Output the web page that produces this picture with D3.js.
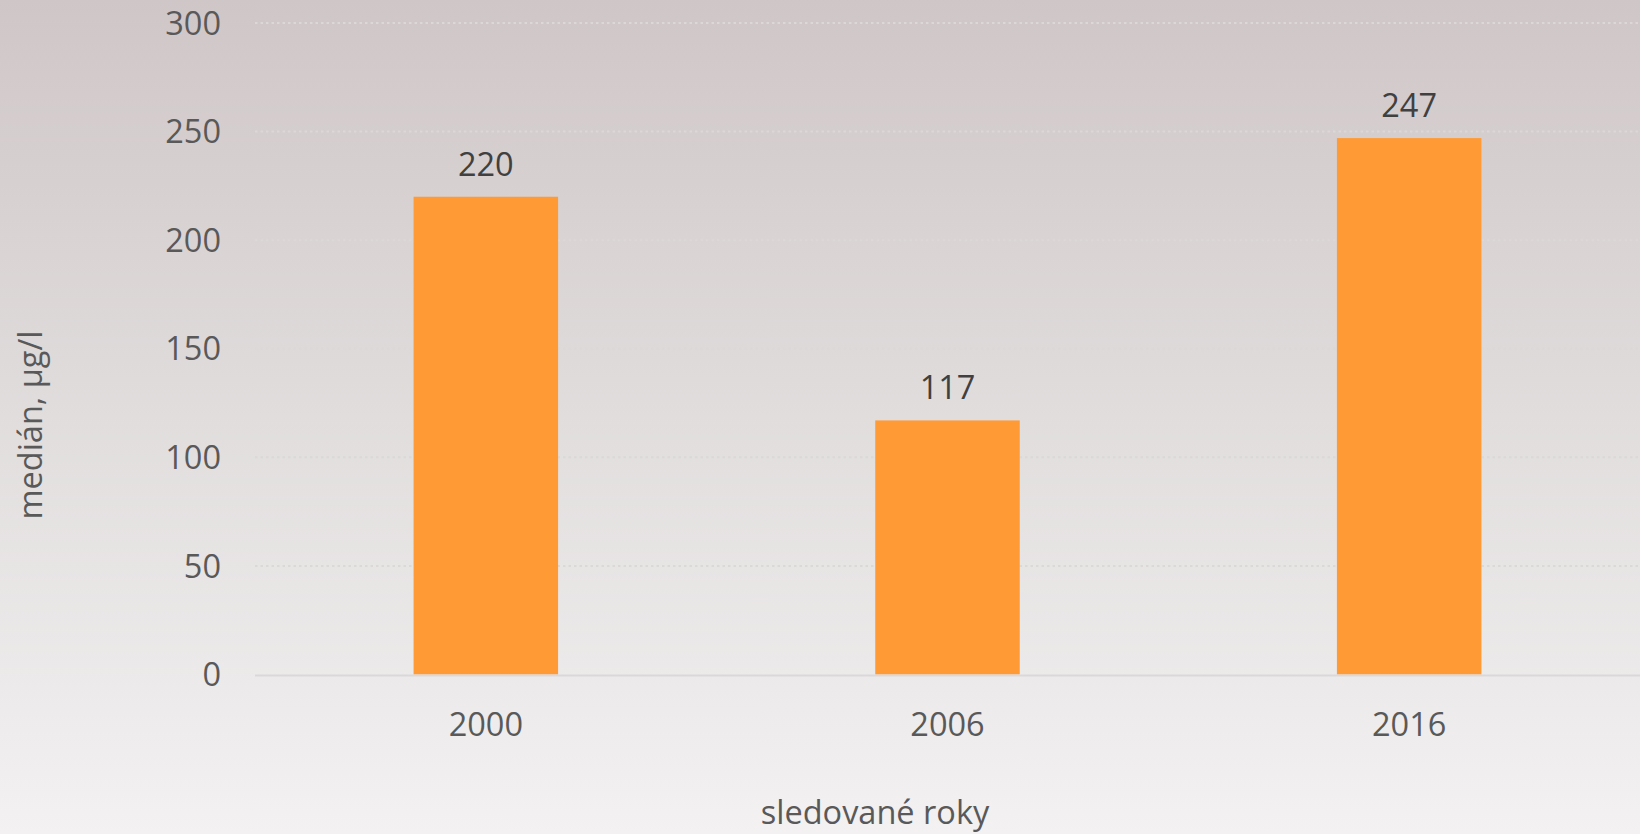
<!DOCTYPE html>
<html>
<head>
<meta charset="utf-8">
<title>medián</title>
<script src="https://cdn.jsdelivr.net/npm/d3@7"></script>
<style>
  html, body { margin: 0; padding: 0; overflow: hidden; }
  text { font-family: "Open Sans", Calibri, sans-serif; }
  .tick-label { fill: #595959; font-size: 32.5px; }
  .value-label { fill: #404040; font-size: 32.5px; }
  .axis-title { fill: #595959; font-size: 32.5px; }
  .grid { stroke: #dcd8d8; stroke-width: 2; stroke-dasharray: 2.5,3; }
  .baseline { stroke: #d9d9d9; stroke-width: 2; }
  .bar { fill: #ff9a35; }
</style>
</head>
<body>
<svg width="1640" height="834">
  <defs>
    <linearGradient id="bg" x1="0" y1="0" x2="0" y2="1">
      <stop offset="0" stop-color="#cfc6c7"></stop>
      <stop offset="0.5" stop-color="#e1dddd"></stop>
      <stop offset="1" stop-color="#f3f1f2"></stop>
    </linearGradient>
  </defs>
  <rect width="1640" height="834" fill="url(#bg)"></rect>
  <g class="grid-lines"></g>
  <g class="bars"></g>
  <g class="labels"></g>
</svg>

<script>
  // data
  var years = ['2000', '2006', '2016']
  var medians = [220, 117, 247]
  var yTicks = [0, 50, 100, 150, 200, 250, 300]

  // plot area (window.top is reserved, so no "top" here)
  var plotLeft = 255, plotRight = 1640, plotTop = 23, plotBottom = 674.5

  var x = d3.scaleBand()
    .domain(years)
    .range([plotLeft, plotRight])
    .paddingInner(0.687)
    .paddingOuter(0.3435)

  var y = d3.scaleLinear()
    .domain([0, 300])
    .range([plotBottom, plotTop])

  var svg = d3.select('svg')

  // gridlines
  svg.select('g.grid-lines')
    .selectAll('line.grid')
    .data(yTicks.filter(function(d) { return d > 0 }))
    .enter()
    .append('line')
    .classed('grid', true)
    .attr('x1', plotLeft)
    .attr('x2', plotRight)
    .attr('y1', function(d) { return y(d) })
    .attr('y2', function(d) { return y(d) })

  // bars
  svg.select('g.bars')
    .selectAll('rect.bar')
    .data(medians)
    .enter()
    .append('rect')
    .classed('bar', true)
    .attr('x', function(d, i) { return x(years[i]) })
    .attr('width', x.bandwidth())
    .attr('y', function(d) { return y(d) })
    .attr('height', function(d) { return y(0) - y(d) })

  // x axis line
  svg.append('line')
    .classed('baseline', true)
    .attr('x1', plotLeft)
    .attr('x2', plotRight)
    .attr('y1', y(0) + 1)
    .attr('y2', y(0) + 1)

  var labels = svg.select('g.labels')

  // y tick labels
  labels.selectAll('text.ytick')
    .data(yTicks)
    .enter()
    .append('text')
    .attr('class', 'tick-label ytick')
    .attr('x', 221)
    .attr('y', function(d) { return y(d) })
    .attr('dy', '0.36em')
    .attr('text-anchor', 'end')
    .text(function(d) { return d })

  // x tick labels
  labels.selectAll('text.xtick')
    .data(years)
    .enter()
    .append('text')
    .attr('class', 'tick-label xtick')
    .attr('x', function(d) { return x(d) + x.bandwidth() / 2 })
    .attr('y', 736)
    .attr('text-anchor', 'middle')
    .text(function(d) { return d })

  // value labels
  labels.selectAll('text.value')
    .data(medians)
    .enter()
    .append('text')
    .attr('class', 'value-label value')
    .attr('x', function(d, i) { return x(years[i]) + x.bandwidth() / 2 })
    .attr('y', function(d) { return y(d) - 21 })
    .attr('text-anchor', 'middle')
    .text(function(d) { return d })

  // axis titles
  labels.append('text')
    .classed('axis-title', true)
    .attr('x', 875)
    .attr('y', 824)
    .attr('text-anchor', 'middle')
    .text('sledované roky')

  labels.append('text')
    .classed('axis-title', true)
    .attr('transform', 'translate(42,425) rotate(-90)')
    .attr('text-anchor', 'middle')
    .text('medián, µg/l')
</script>
</body>
</html>
